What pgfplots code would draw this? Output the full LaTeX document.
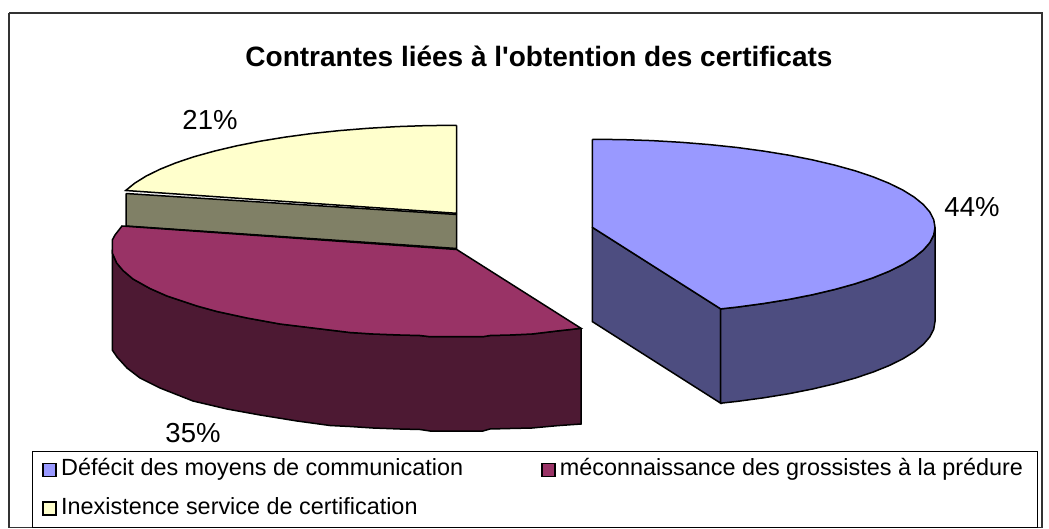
\documentclass[border=0pt]{standalone}
\usepackage{pgfplots}
\pgfplotsset{compat=1.18}
\usepackage{fontspec}
\setmainfont{Liberation Sans}
\newfontfamily\plainsans{Liberation Sans}
\definecolor{cblue}{HTML}{9999FF}
\definecolor{cblued}{HTML}{4D4D80}
\definecolor{cmar}{HTML}{993366}
\definecolor{cmard}{HTML}{4D1933}
\definecolor{cyel}{HTML}{FFFFCC}
\definecolor{cyeld}{HTML}{808066}
\begin{document}
\begin{tikzpicture}
\path[use as bounding box] (0,0) rectangle (1049pt,529pt);
\begin{axis}[
  at={(0,0)}, anchor=south west,
  scale only axis, width=1049pt, height=529pt,
  xmin=0, xmax=1049, ymin=0, ymax=529, y dir=reverse,
  hide axis, clip=false,
  legend columns=2,
  legend cell align=left,
  legend image code/.code={\draw[#1, line width=1.5pt] (0pt,-6.5pt) rectangle (13pt,6.5pt); \path[draw=none,fill=none] (0pt,0pt) -- (16pt,0pt);},
  legend style={
    at={(axis cs:32,451)}, anchor=north west,
    draw=black, line width=0.9pt, fill=white,
    font=\fontsize{23.4}{27}\selectfont,
    inner xsep=10pt, inner ysep=7.5pt,
    nodes={inner xsep=2pt, inner ysep=0pt, text height=17pt, text depth=5pt},
    /tikz/every even column/.append style={column sep=0pt},
    row sep=16.5pt,
  },
]
% outer frame
\addplot[draw=black!80, line width=1.2pt, forget plot] coordinates {(9,13)(1042,13)(1042,527.5)(9,527.5)(9,13)};
% blue slice: inner wall, outer wall, top
\addplot[fill=cblued, draw=black, line width=1.5pt, forget plot] coordinates {(592.3,227.3)(720.7,308.9)(720.7,403.2)(592.3,321.6)(592.3,227.3)};
\addplot[fill=cblued, draw=black, line width=1.5pt, forget plot] coordinates {(720.7,308.9)(737.1,307.1)(763.7,303.5)(788.9,299.4)(812.6,294.7)(834.6,289.5)(854.8,283.9)(873,277.8)(889.1,271.3)(902.9,264.5)(914.3,257.4)(923.3,250.1)(929.8,242.6)(933.7,235)(935,227.3)(935,321.6)(933.7,329.3)(929.8,336.9)(923.3,344.4)(914.3,351.7)(902.9,358.8)(889.1,365.6)(873,372.1)(854.8,378.2)(834.6,383.8)(812.6,389)(788.9,393.7)(763.7,397.8)(737.1,401.4)(720.7,403.2)(720.7,308.9)};
\addplot[fill=cblue, draw=black, line width=1.5pt] coordinates {(592.3,139.3)(622.2,139.6)(651.8,140.6)(681,142.3)(709.5,144.6)(737.1,147.5)(763.7,151.1)(788.9,155.2)(812.6,159.9)(834.6,165.1)(854.8,170.7)(873,176.8)(889.1,183.3)(902.9,190.1)(914.3,197.2)(923.3,204.5)(929.8,212)(933.7,219.6)(935,227.3)(933.7,235)(929.8,242.6)(923.3,250.1)(914.3,257.4)(902.9,264.5)(889.1,271.3)(873,277.8)(854.8,283.9)(834.6,289.5)(812.6,294.7)(788.9,299.4)(763.7,303.5)(737.1,307.1)(720.7,308.9)(592.3,227.3)(592.3,139.3)};
\addlegendentry{\makebox[478pt][l]{Défécit des moyens de communication}}
% olive wall
\addplot[fill=cyeld, draw=black, line width=1.5pt, forget plot] coordinates {(126,193.5)(456.7,214.5)(456.7,248.5)(126,226)(126,193.5)};
% maroon slice: wall, top
\addplot[fill=cmard, draw=black, line width=1.5pt, forget plot] coordinates {(581,328.3)(557,331)(532,334)(510,335)(490,335.5)(483,336.7)(456,336.7)(430,336.7)(420,335.5)(400,335)(373,334)(350,332.5)(313,328)(280,324)(247,318)(217,311.5)(197,306)(167,296)(150,288.5)(133,279)(123,270.5)(116.7,263)(112.3,253)(112.3,350)(117,357)(127,368)(140,378)(160,388)(193,401)(227,409)(260,415)(297,421)(330,425.5)(350,426.5)(373,428)(400,429)(420,429.5)(430,431)(456,431)(483,431)(490,429)(510,428.5)(532,428)(557,425.7)(581,424)(581,328.3)};
\addplot[fill=cmar, draw=black, line width=1.5pt] coordinates {(456.7,249.5)(581,328.3)(557,331)(532,334)(510,335)(490,335.5)(483,336.7)(456,336.7)(430,336.7)(420,335.5)(400,335)(373,334)(350,332.5)(313,328)(280,324)(247,318)(217,311.5)(197,306)(167,296)(150,288.5)(133,279)(123,270.5)(116.7,263)(112.3,253)(112.3,240)(115,235)(122,226)(456.7,249.5)};
\addlegendentry{\makebox[465pt][l]{méconnaissance des grossistes à la prédure}}
% yellow slice
\addplot[fill=cyel, draw=black, line width=1.5pt] coordinates {(456.7,125.3)(426.8,125.6)(397.2,126.6)(368,128.3)(339.5,130.6)(311.9,133.5)(285.3,137.1)(260.1,141.2)(236.4,145.9)(214.4,151.1)(194.2,156.7)(176,162.8)(159.9,169.3)(146.1,176.1)(134.7,183.2)(125.7,190.5)(456.7,213.3)(456.7,125.3)};
\addlegendentry{Inexistence service de certification}
% text
\node[font=\plainsans\bfseries\fontsize{28}{32}\selectfont] at (axis cs:539,56) {Contrantes liées à l'obtention des certificats};
\node[font=\fontsize{27.5}{32}\selectfont] at (axis cs:210,120) {21\%};
\node[font=\fontsize{27.5}{32}\selectfont] at (axis cs:972,207) {44\%};
\node[font=\fontsize{27.5}{32}\selectfont] at (axis cs:193,433) {35\%};
\end{axis}
\end{tikzpicture}
\end{document}
